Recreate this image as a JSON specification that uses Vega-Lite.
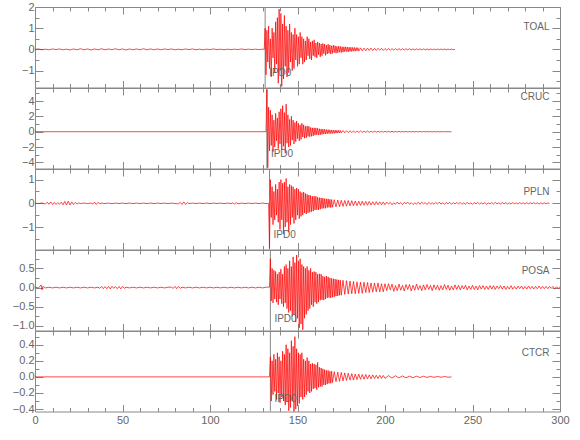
{
"$schema":"https://vega.github.io/schema/vega-lite/v6.json",
"background":"white",
"padding":{"left":11,"top":0,"right":5,"bottom":5},
"spacing":0,
"bounds":"flush",
"config":{"view":{"stroke":"#888888","strokeWidth":1},"axis":{"domain":false,"grid":false,"tickColor":"#888888","tickWidth":1,"labelFont":"Liberation Sans","labelFontSize":11,"labelColor":"#666666","labelOverlap":false,"labelFlush":false}},
"datasets":{
"picks":[{"s":"TOAL","t":131.5},{"s":"CRUC","t":132.5},{"s":"PPLN","t":134},{"s":"POSA","t":134.5},{"s":"CTCR","t":134.5}],
"TOAL":[{"t":0,"v":0},{"t":2,"v":0.02},{"t":4,"v":-0.02},{"t":6,"v":0.01},{"t":8,"v":-0.02},{"t":10,"v":0.02},{"t":12,"v":-0.01},{"t":14,"v":0.02},{"t":16,"v":-0.02},{"t":18,"v":0.01},{"t":20,"v":-0.03},{"t":22,"v":0.02},{"t":24,"v":-0.02},{"t":26,"v":0.03},{"t":28,"v":-0.02},{"t":30,"v":0.02},{"t":32,"v":-0.03},{"t":34,"v":0.02},{"t":36,"v":-0.02},{"t":38,"v":0.03},{"t":40,"v":-0.02},{"t":42,"v":0.02},{"t":44,"v":-0.02},{"t":46,"v":0.03},{"t":48,"v":-0.02},{"t":50,"v":0.02},{"t":52,"v":-0.03},{"t":54,"v":0.02},{"t":56,"v":-0.02},{"t":58,"v":0.02},{"t":60,"v":-0.02},{"t":62,"v":0.03},{"t":64,"v":-0.02},{"t":66,"v":0.02},{"t":68,"v":-0.02},{"t":70,"v":0.02},{"t":72,"v":-0.02},{"t":74,"v":0.02},{"t":76,"v":-0.01},{"t":78,"v":0.02},{"t":80,"v":-0.02},{"t":82,"v":0.01},{"t":84,"v":-0.02},{"t":86,"v":0.02},{"t":88,"v":-0.01},{"t":90,"v":0.02},{"t":92,"v":-0.02},{"t":94,"v":0.01},{"t":96,"v":-0.02},{"t":98,"v":0.01},{"t":100,"v":-0.01},{"t":102,"v":0.02},{"t":104,"v":-0.01},{"t":106,"v":0.01},{"t":108,"v":-0.02},{"t":110,"v":0.01},{"t":112,"v":-0.01},{"t":114,"v":0.01},{"t":116,"v":-0.01},{"t":118,"v":0.02},{"t":120,"v":-0.01},{"t":122,"v":0.01},{"t":124,"v":-0.01},{"t":126,"v":0.01},{"t":128,"v":-0.01},{"t":130,"v":0.01},{"t":131,"v":0},
{"t":131.5,"v":1.0},{"t":132,"v":-1.2},{"t":132.5,"v":0.9},{"t":133,"v":-0.6},{"t":133.5,"v":1.1},{"t":134,"v":-0.9},{"t":134.5,"v":0.5},{"t":135,"v":-1.3},{"t":135.5,"v":1.0},{"t":136,"v":-0.4},{"t":136.5,"v":0.8},{"t":137,"v":-1.1},{"t":137.5,"v":1.3},{"t":138,"v":-0.7},{"t":138.5,"v":1.5},{"t":139,"v":-1.6},{"t":139.5,"v":1.9},{"t":140,"v":-1.0},{"t":140.5,"v":1.7},{"t":141,"v":-1.75},{"t":141.5,"v":1.2},{"t":142,"v":-1.4},{"t":142.5,"v":1.6},{"t":143,"v":-0.8},{"t":143.5,"v":1.1},{"t":144,"v":-1.3},{"t":144.5,"v":0.9},{"t":145,"v":-1.1},{"t":145.5,"v":1.2},{"t":146,"v":-0.6},{"t":146.5,"v":0.8},{"t":147,"v":-1.0},{"t":147.5,"v":0.7},{"t":148,"v":-0.9},{"t":148.5,"v":1.0},{"t":149,"v":-0.5},{"t":149.5,"v":0.7},{"t":150,"v":-0.8},{"t":150.5,"v":0.6},{"t":151,"v":-0.7},{"t":151.5,"v":0.8},{"t":152,"v":-0.4},{"t":152.5,"v":0.6},{"t":153,"v":-0.7},{"t":153.5,"v":0.5},{"t":154,"v":-0.6},{"t":154.5,"v":0.4},{"t":155,"v":-0.5},{"t":155.5,"v":0.6},{"t":156,"v":-0.3},{"t":156.5,"v":0.5},{"t":157,"v":-0.45},{"t":157.5,"v":0.35},{"t":158,"v":-0.5},{"t":158.5,"v":0.4},{"t":159,"v":-0.3},{"t":159.5,"v":0.45},{"t":160,"v":-0.35},{"t":160.5,"v":0.3},{"t":161,"v":-0.4},{"t":161.5,"v":0.35},{"t":162,"v":-0.25},{"t":162.5,"v":0.3},{"t":163,"v":-0.35},{"t":163.5,"v":0.25},{"t":164,"v":-0.3},{"t":164.5,"v":0.28},{"t":165,"v":-0.2},{"t":165.5,"v":0.25},{"t":166,"v":-0.28},{"t":166.5,"v":0.2},{"t":167,"v":-0.22},{"t":167.5,"v":0.24},{"t":168,"v":-0.18},{"t":168.5,"v":0.2},{"t":169,"v":-0.22},{"t":169.5,"v":0.17},{"t":170,"v":-0.19},{"t":170.5,"v":0.2},{"t":171,"v":-0.15},{"t":171.5,"v":0.17},{"t":172,"v":-0.18},{"t":172.5,"v":0.14},{"t":173,"v":-0.16},{"t":173.5,"v":0.15},{"t":174,"v":-0.13},{"t":174.5,"v":0.14},{"t":175,"v":-0.15},{"t":175.5,"v":0.12},{"t":176,"v":-0.13},{"t":176.5,"v":0.12},{"t":177,"v":-0.11},{"t":177.5,"v":0.12},{"t":178,"v":-0.1},{"t":178.5,"v":0.11},{"t":179,"v":-0.12},{"t":179.5,"v":0.1},{"t":180,"v":-0.09},{"t":180.5,"v":0.1},{"t":181,"v":-0.1},{"t":181.5,"v":0.09},{"t":182,"v":-0.08},{"t":182.5,"v":0.09},{"t":183,"v":-0.09},{"t":183.5,"v":0.08},{"t":184,"v":-0.07},{"t":184.5,"v":0.08},{"t":185,"v":-0.08},
{"t":186,"v":0.07},{"t":187,"v":-0.07},{"t":188,"v":0.06},{"t":189,"v":-0.07},{"t":190,"v":0.06},{"t":191,"v":-0.05},{"t":192,"v":0.06},{"t":193,"v":-0.06},{"t":194,"v":0.05},{"t":195,"v":-0.05},{"t":196,"v":0.05},{"t":197,"v":-0.04},{"t":198,"v":0.05},{"t":199,"v":-0.05},{"t":200,"v":0.04},{"t":201,"v":-0.04},{"t":202,"v":0.04},{"t":203,"v":-0.04},{"t":204,"v":0.035},{"t":205,"v":-0.04},{"t":206,"v":0.035},{"t":207,"v":-0.03},{"t":208,"v":0.035},{"t":209,"v":-0.03},{"t":210,"v":0.03},{"t":211,"v":-0.03},{"t":212,"v":0.03},{"t":213,"v":-0.025},{"t":214,"v":0.03},{"t":215,"v":-0.025},{"t":216,"v":0.025},{"t":217,"v":-0.025},{"t":218,"v":0.025},{"t":219,"v":-0.02},{"t":220,"v":0.025},{"t":221,"v":-0.02},{"t":222,"v":0.02},{"t":223,"v":-0.02},{"t":224,"v":0.02},{"t":225,"v":-0.02},{"t":226,"v":0.02},{"t":227,"v":-0.018},{"t":228,"v":0.018},{"t":229,"v":-0.018},{"t":230,"v":0.016},{"t":231,"v":-0.016},{"t":232,"v":0.016},{"t":233,"v":-0.015},{"t":234,"v":0.015},{"t":235,"v":-0.015},{"t":236,"v":0.014},{"t":237,"v":-0.014},{"t":238,"v":0.013},{"t":239,"v":-0.013},{"t":240,"v":0}],
"CRUC":[{"t":0,"v":0},{"t":132,"v":0},
{"t":132.5,"v":5.5},{"t":133,"v":-4.7},{"t":133.5,"v":3.2},{"t":134,"v":-2.5},{"t":134.5,"v":2.8},{"t":135,"v":-1.8},{"t":135.5,"v":2.2},{"t":136,"v":-2.6},{"t":136.5,"v":1.5},{"t":137,"v":-2.0},{"t":137.5,"v":2.4},{"t":138,"v":-1.2},{"t":138.5,"v":1.8},{"t":139,"v":-2.2},{"t":139.5,"v":2.6},{"t":140,"v":-1.6},{"t":140.5,"v":3.0},{"t":141,"v":-2.4},{"t":141.5,"v":3.4},{"t":142,"v":-1.9},{"t":142.5,"v":2.5},{"t":143,"v":-2.8},{"t":143.5,"v":3.6},{"t":144,"v":-1.5},{"t":144.5,"v":2.2},{"t":145,"v":-2.0},{"t":145.5,"v":1.6},{"t":146,"v":-1.8},{"t":146.5,"v":2.0},{"t":147,"v":-1.1},{"t":147.5,"v":1.5},{"t":148,"v":-1.6},{"t":148.5,"v":1.2},{"t":149,"v":-1.3},{"t":149.5,"v":1.4},{"t":150,"v":-0.9},{"t":150.5,"v":1.1},{"t":151,"v":-1.2},{"t":151.5,"v":0.9},{"t":152,"v":-1.0},{"t":152.5,"v":1.1},{"t":153,"v":-0.7},{"t":153.5,"v":0.9},{"t":154,"v":-0.85},{"t":154.5,"v":0.7},{"t":155,"v":-0.8},{"t":155.5,"v":0.75},{"t":156,"v":-0.6},{"t":156.5,"v":0.7},{"t":157,"v":-0.65},{"t":157.5,"v":0.55},{"t":158,"v":-0.6},{"t":158.5,"v":0.5},{"t":159,"v":-0.55},{"t":159.5,"v":0.5},{"t":160,"v":-0.45},{"t":160.5,"v":0.5},{"t":161,"v":-0.4},{"t":161.5,"v":0.45},{"t":162,"v":-0.42},{"t":162.5,"v":0.38},{"t":163,"v":-0.4},{"t":163.5,"v":0.35},{"t":164,"v":-0.36},{"t":164.5,"v":0.33},{"t":165,"v":-0.3},{"t":165.5,"v":0.32},{"t":166,"v":-0.3},{"t":166.5,"v":0.28},{"t":167,"v":-0.27},{"t":167.5,"v":0.27},{"t":168,"v":-0.25},{"t":168.5,"v":0.24},{"t":169,"v":-0.24},{"t":169.5,"v":0.22},{"t":170,"v":-0.23},{"t":170.5,"v":0.2},{"t":171,"v":-0.21},{"t":171.5,"v":0.2},{"t":172,"v":-0.19},{"t":172.5,"v":0.18},{"t":173,"v":-0.18},{"t":173.5,"v":0.17},{"t":174,"v":-0.16},{"t":174.5,"v":0.16},{"t":175,"v":-0.15},
{"t":176,"v":0.15},{"t":177,"v":-0.14},{"t":178,"v":0.13},{"t":179,"v":-0.13},{"t":180,"v":0.12},{"t":181,"v":-0.12},{"t":182,"v":0.11},{"t":183,"v":-0.11},{"t":184,"v":0.1},{"t":185,"v":-0.1},{"t":186,"v":0.1},{"t":187,"v":-0.09},{"t":188,"v":0.09},{"t":189,"v":-0.09},{"t":190,"v":0.08},{"t":191,"v":-0.08},{"t":192,"v":0.08},{"t":193,"v":-0.07},{"t":194,"v":0.07},{"t":195,"v":-0.07},{"t":196,"v":0.06},{"t":197,"v":-0.06},{"t":198,"v":0.06},{"t":199,"v":-0.06},{"t":200,"v":0.05},{"t":201,"v":-0.05},{"t":202,"v":0.05},{"t":203,"v":-0.05},{"t":204,"v":0.045},{"t":205,"v":-0.045},{"t":206,"v":0.04},{"t":207,"v":-0.04},{"t":208,"v":0.04},{"t":209,"v":-0.04},{"t":210,"v":0.035},{"t":211,"v":-0.035},{"t":212,"v":0.035},{"t":213,"v":-0.03},{"t":214,"v":0.03},{"t":215,"v":-0.03},{"t":216,"v":0.03},{"t":217,"v":-0.03},{"t":218,"v":0.025},{"t":219,"v":-0.025},{"t":220,"v":0.025},{"t":221,"v":-0.025},{"t":222,"v":0.02},{"t":223,"v":-0.02},{"t":224,"v":0.02},{"t":225,"v":-0.02},{"t":226,"v":0.02},{"t":227,"v":-0.02},{"t":228,"v":0.015},{"t":229,"v":-0.015},{"t":230,"v":0.015},{"t":231,"v":-0.015},{"t":232,"v":0.015},{"t":233,"v":-0.01},{"t":234,"v":0.01},{"t":235,"v":-0.01},{"t":236,"v":0.01},{"t":237,"v":-0.01},{"t":238,"v":0}],
"PPLN":[{"t":0,"v":0.01},{"t":2,"v":-0.01},{"t":4,"v":0.015},{"t":6,"v":-0.03},{"t":7,"v":0.05},{"t":8,"v":-0.04},{"t":9,"v":0.06},{"t":10,"v":-0.05},{"t":11,"v":0.04},{"t":12,"v":-0.05},{"t":13,"v":0.03},{"t":14,"v":-0.04},{"t":15,"v":0.05},{"t":16,"v":-0.06},{"t":17,"v":0.08},{"t":18,"v":-0.07},{"t":19,"v":0.09},{"t":20,"v":-0.07},{"t":21,"v":0.06},{"t":22,"v":-0.05},{"t":23,"v":0.04},{"t":24,"v":-0.03},{"t":25,"v":0.02},{"t":26,"v":-0.01},{"t":28,"v":0.01},{"t":30,"v":-0.01},{"t":32,"v":0.015},{"t":33,"v":-0.03},{"t":34,"v":0.05},{"t":35,"v":-0.05},{"t":36,"v":0.04},{"t":37,"v":-0.02},{"t":38,"v":0.01},{"t":40,"v":-0.01},{"t":42,"v":0.01},{"t":44,"v":-0.01},{"t":46,"v":0.01},{"t":48,"v":-0.01},{"t":50,"v":0.01},{"t":52,"v":-0.01},{"t":54,"v":0.01},{"t":56,"v":-0.01},{"t":58,"v":0.01},{"t":60,"v":-0.01},{"t":62,"v":0.01},{"t":64,"v":-0.01},{"t":66,"v":0.01},{"t":68,"v":-0.01},{"t":70,"v":0.01},{"t":72,"v":-0.01},{"t":74,"v":0.01},{"t":76,"v":-0.01},{"t":78,"v":0.01},{"t":80,"v":-0.01},{"t":82,"v":-0.02},{"t":83,"v":0.04},{"t":84,"v":-0.05},{"t":85,"v":0.06},{"t":86,"v":-0.04},{"t":87,"v":0.03},{"t":88,"v":-0.01},{"t":90,"v":0.01},{"t":92,"v":-0.01},{"t":94,"v":0.01},{"t":96,"v":-0.01},{"t":98,"v":0.01},{"t":100,"v":-0.01},{"t":102,"v":0.01},{"t":104,"v":-0.01},{"t":106,"v":0.01},{"t":108,"v":-0.01},{"t":110,"v":0.01},{"t":112,"v":-0.01},{"t":113,"v":0.02},{"t":114,"v":-0.03},{"t":115,"v":0.03},{"t":116,"v":-0.02},{"t":118,"v":0.01},{"t":120,"v":-0.01},{"t":122,"v":0.01},{"t":124,"v":-0.01},{"t":126,"v":0.01},{"t":128,"v":-0.01},{"t":130,"v":0.01},{"t":132,"v":-0.01},{"t":133.5,"v":0},
{"t":134,"v":-1.9},{"t":134.5,"v":1.0},{"t":135,"v":-0.6},{"t":135.5,"v":0.7},{"t":136,"v":-0.9},{"t":136.5,"v":0.5},{"t":137,"v":-0.7},{"t":137.5,"v":0.8},{"t":138,"v":-0.5},{"t":138.5,"v":0.6},{"t":139,"v":-0.8},{"t":139.5,"v":0.9},{"t":140,"v":-1.1},{"t":140.5,"v":1.0},{"t":141,"v":-0.7},{"t":141.5,"v":0.85},{"t":142,"v":-1.3},{"t":142.5,"v":0.9},{"t":143,"v":-1.0},{"t":143.5,"v":1.05},{"t":144,"v":-0.8},{"t":144.5,"v":0.7},{"t":145,"v":-1.2},{"t":145.5,"v":0.8},{"t":146,"v":-0.9},{"t":146.5,"v":0.75},{"t":147,"v":-0.6},{"t":147.5,"v":0.7},{"t":148,"v":-0.85},{"t":148.5,"v":0.6},{"t":149,"v":-0.7},{"t":149.5,"v":0.65},{"t":150,"v":-0.5},{"t":150.5,"v":0.6},{"t":151,"v":-0.65},{"t":151.5,"v":0.5},{"t":152,"v":-0.55},{"t":152.5,"v":0.45},{"t":153,"v":-0.5},{"t":153.5,"v":0.48},{"t":154,"v":-0.4},{"t":154.5,"v":0.42},{"t":155,"v":-0.45},{"t":155.5,"v":0.38},{"t":156,"v":-0.4},{"t":156.5,"v":0.35},{"t":157,"v":-0.38},{"t":157.5,"v":0.33},{"t":158,"v":-0.35},{"t":158.5,"v":0.3},{"t":159,"v":-0.33},{"t":159.5,"v":0.3},{"t":160,"v":-0.28},{"t":160.5,"v":0.3},{"t":161,"v":-0.27},{"t":161.5,"v":0.26},{"t":162,"v":-0.28},{"t":162.5,"v":0.24},{"t":163,"v":-0.25},{"t":163.5,"v":0.23},{"t":164,"v":-0.22},{"t":164.5,"v":0.22},{"t":165,"v":-0.21},{"t":165.5,"v":0.2},{"t":166,"v":-0.21},{"t":166.5,"v":0.19},{"t":167,"v":-0.18},{"t":167.5,"v":0.19},{"t":168,"v":-0.17},{"t":168.5,"v":0.17},{"t":169,"v":-0.18},{"t":169.5,"v":0.16},{"t":170,"v":-0.16},
{"t":171,"v":0.15},{"t":172,"v":-0.15},{"t":173,"v":0.14},{"t":174,"v":-0.14},{"t":175,"v":0.13},{"t":176,"v":-0.13},{"t":177,"v":0.12},{"t":178,"v":-0.12},{"t":179,"v":0.12},{"t":180,"v":-0.11},{"t":181,"v":0.11},{"t":182,"v":-0.1},{"t":183,"v":0.1},{"t":184,"v":-0.1},{"t":185,"v":0.09},{"t":186,"v":-0.09},{"t":187,"v":0.09},{"t":188,"v":-0.08},{"t":189,"v":0.08},{"t":190,"v":-0.08},{"t":191,"v":0.08},{"t":192,"v":-0.07},{"t":193,"v":0.07},{"t":194,"v":-0.07},{"t":195,"v":0.07},{"t":196,"v":-0.06},{"t":197,"v":0.06},{"t":198,"v":-0.06},{"t":199,"v":0.06},{"t":200,"v":-0.06},
{"t":201,"v":0.05},{"t":202,"v":-0.03},{"t":203,"v":0.04},{"t":204,"v":-0.06},{"t":205,"v":0.02},{"t":206,"v":-0.04},{"t":207,"v":0.05},{"t":208,"v":-0.03},{"t":209,"v":0.03},{"t":210,"v":-0.05},{"t":211,"v":0.04},{"t":212,"v":-0.02},{"t":213,"v":0.05},{"t":214,"v":-0.04},{"t":215,"v":0.03},{"t":216,"v":-0.05},{"t":217,"v":0.02},{"t":218,"v":-0.03},{"t":219,"v":0.04},{"t":220,"v":-0.04},{"t":221,"v":0.05},{"t":222,"v":-0.02},{"t":223,"v":0.03},{"t":224,"v":-0.05},{"t":225,"v":0.04},{"t":226,"v":-0.03},{"t":227,"v":0.02},{"t":228,"v":-0.04},{"t":229,"v":0.04},{"t":230,"v":-0.03},{"t":231,"v":0.05},{"t":232,"v":-0.03},{"t":233,"v":0.02},{"t":234,"v":-0.04},{"t":235,"v":0.03},{"t":236,"v":-0.02},{"t":237,"v":0.04},{"t":238,"v":-0.04},{"t":239,"v":0.03},{"t":240,"v":-0.03},{"t":241,"v":0.04},{"t":242,"v":-0.02},{"t":243,"v":0.03},{"t":244,"v":-0.04},{"t":245,"v":0.02},{"t":246,"v":-0.03},{"t":247,"v":0.04},{"t":248,"v":-0.03},{"t":249,"v":0.02},{"t":250,"v":-0.04},{"t":251,"v":0.03},{"t":252,"v":-0.02},{"t":253,"v":0.04},{"t":254,"v":-0.03},{"t":255,"v":0.02},{"t":256,"v":-0.03},{"t":257,"v":0.03},{"t":258,"v":-0.04},{"t":259,"v":0.02},{"t":260,"v":-0.02},{"t":261,"v":0.03},{"t":262,"v":-0.03},{"t":263,"v":0.04},{"t":264,"v":-0.02},{"t":265,"v":0.02},{"t":266,"v":-0.03},{"t":267,"v":0.03},{"t":268,"v":-0.02},{"t":269,"v":0.03},{"t":270,"v":-0.03},{"t":271,"v":0.02},{"t":272,"v":-0.03},{"t":273,"v":0.03},{"t":274,"v":-0.02},{"t":275,"v":0.02},{"t":276,"v":-0.03},{"t":277,"v":0.03},{"t":278,"v":-0.02},{"t":279,"v":0.02},{"t":280,"v":-0.03},{"t":281,"v":0.03},{"t":282,"v":-0.02},{"t":283,"v":0.02},{"t":284,"v":-0.02},{"t":285,"v":0.03},{"t":286,"v":-0.02},{"t":287,"v":0.02},{"t":288,"v":-0.03},{"t":289,"v":0.02},{"t":290,"v":-0.02},{"t":291,"v":0.02},{"t":292,"v":-0.02},{"t":293,"v":0.01},{"t":294,"v":0}],
"POSA":[{"t":0,"v":0.01},{"t":2,"v":-0.01},{"t":3.5,"v":0.07},{"t":4,"v":-0.06},{"t":4.5,"v":0.03},{"t":6,"v":-0.01},{"t":8,"v":0.01},{"t":10,"v":-0.01},{"t":12,"v":0.01},{"t":14,"v":-0.01},{"t":16,"v":0.01},{"t":18,"v":-0.01},{"t":20,"v":0.01},{"t":22,"v":-0.01},{"t":24,"v":0.01},{"t":26,"v":-0.01},{"t":28,"v":0.01},{"t":30,"v":-0.01},{"t":32,"v":0.01},{"t":34,"v":-0.01},{"t":36,"v":0.01},{"t":37,"v":-0.02},{"t":38,"v":0.03},{"t":39,"v":-0.03},{"t":40,"v":0.025},{"t":41,"v":-0.03},{"t":42,"v":0.03},{"t":43,"v":-0.035},{"t":44,"v":0.03},{"t":45,"v":-0.02},{"t":46,"v":0.025},{"t":47,"v":-0.03},{"t":48,"v":0.03},{"t":49,"v":-0.035},{"t":50,"v":0.03},{"t":51,"v":-0.02},{"t":52,"v":0.01},{"t":54,"v":-0.01},{"t":56,"v":0.01},{"t":58,"v":-0.01},{"t":60,"v":0.01},{"t":62,"v":-0.01},{"t":64,"v":0.01},{"t":66,"v":-0.01},{"t":68,"v":0.01},{"t":70,"v":-0.01},{"t":72,"v":0.01},{"t":74,"v":-0.01},{"t":76,"v":0.01},{"t":78,"v":0.01},{"t":79,"v":-0.02},{"t":80,"v":0.03},{"t":81,"v":-0.03},{"t":82,"v":0.03},{"t":83,"v":-0.02},{"t":84,"v":0.01},{"t":86,"v":-0.01},{"t":88,"v":0.01},{"t":90,"v":-0.01},{"t":92,"v":0.01},{"t":94,"v":-0.01},{"t":96,"v":0.01},{"t":98,"v":-0.01},{"t":100,"v":0.01},{"t":102,"v":-0.01},{"t":104,"v":0.01},{"t":106,"v":-0.01},{"t":108,"v":0.01},{"t":110,"v":-0.01},{"t":112,"v":0.01},{"t":114,"v":-0.01},{"t":116,"v":0.01},{"t":118,"v":-0.01},{"t":120,"v":0.01},{"t":122,"v":-0.01},{"t":124,"v":0.01},{"t":126,"v":-0.01},{"t":128,"v":0.01},{"t":130,"v":-0.01},{"t":132,"v":0.01},{"t":134,"v":0.01},
{"t":134.5,"v":0.75},{"t":135,"v":-0.35},{"t":135.5,"v":0.5},{"t":136,"v":-0.4},{"t":136.5,"v":0.45},{"t":137,"v":-0.3},{"t":137.5,"v":0.42},{"t":138,"v":-0.38},{"t":138.5,"v":0.35},{"t":139,"v":-0.45},{"t":139.5,"v":0.4},{"t":140,"v":-0.3},{"t":140.5,"v":0.48},{"t":141,"v":-0.42},{"t":141.5,"v":0.35},{"t":142,"v":-0.5},{"t":142.5,"v":0.55},{"t":143,"v":-0.4},{"t":143.5,"v":0.6},{"t":144,"v":-0.55},{"t":144.5,"v":0.5},{"t":145,"v":-0.65},{"t":145.5,"v":0.7},{"t":146,"v":-0.6},{"t":146.5,"v":0.55},{"t":147,"v":-0.75},{"t":147.5,"v":0.8},{"t":148,"v":-0.7},{"t":148.5,"v":0.65},{"t":149,"v":-0.9},{"t":149.5,"v":0.85},{"t":150,"v":-0.8},{"t":150.5,"v":0.7},{"t":151,"v":-1.05},{"t":151.5,"v":0.75},{"t":152,"v":-0.95},{"t":152.5,"v":0.6},{"t":153,"v":-1.1},{"t":153.5,"v":0.55},{"t":154,"v":-0.8},{"t":154.5,"v":0.5},{"t":155,"v":-0.7},{"t":155.5,"v":0.55},{"t":156,"v":-0.6},{"t":156.5,"v":0.45},{"t":157,"v":-0.55},{"t":157.5,"v":0.5},{"t":158,"v":-0.45},{"t":158.5,"v":0.4},{"t":159,"v":-0.5},{"t":159.5,"v":0.42},{"t":160,"v":-0.38},{"t":160.5,"v":0.4},{"t":161,"v":-0.42},{"t":161.5,"v":0.35},{"t":162,"v":-0.38},{"t":162.5,"v":0.36},{"t":163,"v":-0.33},{"t":163.5,"v":0.35},{"t":164,"v":-0.32},{"t":164.5,"v":0.3},{"t":165,"v":-0.33},{"t":165.5,"v":0.28},{"t":166,"v":-0.3},{"t":166.5,"v":0.3},{"t":167,"v":-0.27},{"t":167.5,"v":0.28},{"t":168,"v":-0.26},{"t":168.5,"v":0.25},{"t":169,"v":-0.27},{"t":169.5,"v":0.24},{"t":170,"v":-0.25},{"t":170.5,"v":0.23},{"t":171,"v":-0.24},{"t":171.5,"v":0.22},{"t":172,"v":-0.22},{"t":172.5,"v":0.21},{"t":173,"v":-0.22},{"t":173.5,"v":0.2},{"t":174,"v":-0.2},{"t":174.5,"v":0.19},{"t":175,"v":-0.2},
{"t":176,"v":0.19},{"t":177,"v":-0.18},{"t":178,"v":0.18},{"t":179,"v":-0.17},{"t":180,"v":0.17},{"t":181,"v":-0.16},{"t":182,"v":0.16},{"t":183,"v":-0.16},{"t":184,"v":0.15},{"t":185,"v":-0.15},{"t":186,"v":0.14},{"t":187,"v":-0.15},{"t":188,"v":0.14},{"t":189,"v":-0.13},{"t":190,"v":0.13},{"t":191,"v":-0.13},{"t":192,"v":0.12},{"t":193,"v":-0.12},{"t":194,"v":0.12},{"t":195,"v":-0.11},{"t":196,"v":0.12},{"t":197,"v":-0.11},{"t":198,"v":0.1},{"t":199,"v":-0.11},{"t":200,"v":0.1},
{"t":201,"v":-0.08},{"t":202,"v":0.1},{"t":203,"v":-0.06},{"t":204,"v":0.09},{"t":205,"v":-0.1},{"t":206,"v":0.05},{"t":207,"v":-0.08},{"t":208,"v":0.09},{"t":209,"v":-0.07},{"t":210,"v":0.06},{"t":211,"v":-0.09},{"t":212,"v":0.08},{"t":213,"v":-0.05},{"t":214,"v":0.08},{"t":215,"v":-0.09},{"t":216,"v":0.06},{"t":217,"v":-0.07},{"t":218,"v":0.09},{"t":219,"v":-0.06},{"t":220,"v":0.05},{"t":221,"v":-0.08},{"t":222,"v":0.07},{"t":223,"v":-0.06},{"t":224,"v":0.08},{"t":225,"v":-0.05},{"t":226,"v":0.06},{"t":227,"v":-0.08},{"t":228,"v":0.07},{"t":229,"v":-0.05},{"t":230,"v":0.06},{"t":231,"v":-0.07},{"t":232,"v":0.05},{"t":233,"v":-0.06},{"t":234,"v":0.08},{"t":235,"v":-0.05},{"t":236,"v":0.06},{"t":237,"v":-0.07},{"t":238,"v":0.04},{"t":239,"v":-0.06},{"t":240,"v":0.07},{"t":241,"v":-0.05},{"t":242,"v":0.06},{"t":243,"v":-0.06},{"t":244,"v":0.05},{"t":245,"v":-0.04},{"t":246,"v":0.06},{"t":247,"v":-0.06},{"t":248,"v":0.04},{"t":249,"v":-0.05},{"t":250,"v":0.06},{"t":251,"v":-0.05},{"t":252,"v":0.04},{"t":253,"v":-0.06},{"t":254,"v":0.05},{"t":255,"v":-0.04},{"t":256,"v":0.05},{"t":257,"v":-0.05},{"t":258,"v":0.04},{"t":259,"v":-0.05},{"t":260,"v":0.05},{"t":261,"v":-0.04},{"t":262,"v":0.05},{"t":263,"v":-0.05},{"t":264,"v":0.04},{"t":265,"v":-0.03},{"t":266,"v":0.05},{"t":267,"v":-0.04},{"t":268,"v":0.04},{"t":269,"v":-0.05},{"t":270,"v":0.03},{"t":271,"v":-0.04},{"t":272,"v":0.05},{"t":273,"v":-0.04},{"t":274,"v":0.03},{"t":275,"v":-0.04},{"t":276,"v":0.04},{"t":277,"v":-0.03},{"t":278,"v":0.04},{"t":279,"v":-0.04},{"t":280,"v":0.03},{"t":281,"v":-0.04},{"t":282,"v":0.04},{"t":283,"v":-0.03},{"t":284,"v":0.03},{"t":285,"v":-0.04},{"t":286,"v":0.03},{"t":287,"v":-0.03},{"t":288,"v":0.04},{"t":289,"v":-0.03},{"t":290,"v":0.03},{"t":291,"v":-0.03},{"t":292,"v":0.03},{"t":293,"v":-0.03},{"t":294,"v":0.03},{"t":295,"v":-0.02},{"t":296,"v":0.03},{"t":297,"v":-0.03},{"t":298,"v":0.02},{"t":299,"v":-0.02},{"t":300,"v":0.02}],
"CTCR":[{"t":0,"v":0},{"t":134,"v":0},
{"t":134.5,"v":0.25},{"t":135,"v":-0.3},{"t":135.5,"v":0.2},{"t":136,"v":-0.22},{"t":136.5,"v":0.28},{"t":137,"v":-0.18},{"t":137.5,"v":0.22},{"t":138,"v":-0.28},{"t":138.5,"v":0.3},{"t":139,"v":-0.2},{"t":139.5,"v":0.25},{"t":140,"v":-0.32},{"t":140.5,"v":0.2},{"t":141,"v":-0.25},{"t":141.5,"v":0.32},{"t":142,"v":-0.3},{"t":142.5,"v":0.28},{"t":143,"v":-0.35},{"t":143.5,"v":0.4},{"t":144,"v":-0.3},{"t":144.5,"v":0.35},{"t":145,"v":-0.42},{"t":145.5,"v":0.3},{"t":146,"v":-0.38},{"t":146.5,"v":0.45},{"t":147,"v":-0.3},{"t":147.5,"v":0.38},{"t":148,"v":-0.45},{"t":148.5,"v":0.5},{"t":149,"v":-0.4},{"t":149.5,"v":0.35},{"t":150,"v":-0.36},{"t":150.5,"v":0.3},{"t":151,"v":-0.33},{"t":151.5,"v":0.28},{"t":152,"v":-0.25},{"t":152.5,"v":0.3},{"t":153,"v":-0.28},{"t":153.5,"v":0.22},{"t":154,"v":-0.25},{"t":154.5,"v":0.2},{"t":155,"v":-0.22},{"t":155.5,"v":0.24},{"t":156,"v":-0.18},{"t":156.5,"v":0.2},{"t":157,"v":-0.2},{"t":157.5,"v":0.16},{"t":158,"v":-0.18},{"t":158.5,"v":0.17},{"t":159,"v":-0.15},{"t":159.5,"v":0.16},{"t":160,"v":-0.14},{"t":160.5,"v":0.15},{"t":161,"v":-0.16},{"t":161.5,"v":0.18},{"t":162,"v":-0.13},{"t":162.5,"v":0.12},{"t":163,"v":-0.12},{"t":163.5,"v":0.11},{"t":164,"v":-0.12},{"t":164.5,"v":0.1},{"t":165,"v":-0.1},{"t":165.5,"v":0.09},{"t":166,"v":-0.1},{"t":166.5,"v":0.08},{"t":167,"v":-0.09},{"t":167.5,"v":0.08},{"t":168,"v":-0.08},{"t":168.5,"v":0.07},{"t":169,"v":-0.08},{"t":169.5,"v":0.07},{"t":170,"v":-0.07},
{"t":171,"v":0.065},{"t":172,"v":-0.06},{"t":173,"v":0.06},{"t":174,"v":-0.055},{"t":175,"v":0.055},{"t":176,"v":-0.05},{"t":177,"v":0.05},{"t":178,"v":-0.045},{"t":179,"v":0.045},{"t":180,"v":-0.04},{"t":181,"v":0.04},{"t":182,"v":-0.04},{"t":183,"v":0.035},{"t":184,"v":-0.035},{"t":185,"v":0.035},{"t":186,"v":-0.03},{"t":187,"v":0.03},{"t":188,"v":-0.03},{"t":189,"v":0.03},{"t":190,"v":-0.025},{"t":191,"v":0.025},{"t":192,"v":-0.025},{"t":193,"v":0.025},{"t":194,"v":-0.02},{"t":195,"v":0.02},{"t":196,"v":-0.02},{"t":197,"v":0.02},{"t":198,"v":-0.02},{"t":199,"v":0.018},{"t":200,"v":-0.018},
{"t":202,"v":0.016},{"t":204,"v":-0.015},{"t":206,"v":0.014},{"t":208,"v":-0.013},{"t":210,"v":0.012},{"t":212,"v":-0.011},{"t":214,"v":0.01},{"t":216,"v":-0.01},{"t":218,"v":0.009},{"t":220,"v":-0.008},{"t":222,"v":0.008},{"t":224,"v":-0.007},{"t":226,"v":0.007},{"t":228,"v":-0.006},{"t":230,"v":0.006},{"t":232,"v":-0.005},{"t":234,"v":0.005},{"t":236,"v":-0.004},{"t":238,"v":0}]
},
"vconcat":[
{"width":525,"height":80.5,"resolve":{"axis":{"x":"independent","y":"independent"}},
"layer":[
{"data":{"name":"picks"},"transform":[{"filter":"datum.s === 'TOAL'"}],"mark":{"type":"rule","color":"#888888","strokeWidth":1},"encoding":{"x":{"field":"t","type":"quantitative","scale":{"domain":[0,300],"nice":false,"zero":false},"axis":null}}},
{"data":{"name":"TOAL"},"mark":{"type":"line","color":"#ff0000","strokeWidth":0.8,"opacity":0.9,"clip":true},
"encoding":{"x":{"field":"t","type":"quantitative","scale":{"domain":[0,300],"nice":false,"zero":false},"axis":{"orient":"bottom","title":null,"values":[0,10,20,30,40,50,60,70,80,90,100,110,120,130,140,150,160,170,180,190,200,210,220,230,240,250,260,270,280,290,300],"labels":false,"tickSize":{"condition":{"test":"datum.value % 50 === 0","value":-7},"value":-4}}},
"y":{"field":"v","type":"quantitative","scale":{"domain":[-1.8,2],"nice":false,"zero":false},"axis":{"orient":"left","title":null,"values":[-1.5,-1,-0.5,0,0.5,1,1.5,2],"format":".0f","labelExpr":"datum.value % 1 === 0 ? datum.label : ''","labelPadding":9,"tickSize":{"condition":{"test":"datum.value % 1 === 0","value":-8},"value":-4}}}}},
{"data":{"name":"picks"},"transform":[{"filter":"datum.s === 'TOAL'"}],"mark":{"type":"text","text":"IPD0","align":"left","baseline":"middle","dx":4,"font":"Liberation Sans","fontSize":10,"color":"#666666"},
"encoding":{"x":{"field":"t","type":"quantitative","scale":{"domain":[0,300],"nice":false,"zero":false},"axis":{"orient":"top","title":null,"values":[0,10,20,30,40,50,60,70,80,90,100,110,120,130,140,150,160,170,180,190,200,210,220,230,240,250,260,270,280,290,300],"labels":false,"tickSize":{"condition":{"test":"datum.value % 50 === 0","value":-7},"value":-4}}},
"y":{"datum":-1.12,"type":"quantitative","scale":{"domain":[-1.8,2],"nice":false,"zero":false},"axis":{"orient":"right","title":null,"values":[-1.5,-1,-0.5,0,0.5,1,1.5,2],"labels":false,"tickSize":{"condition":{"test":"datum.value % 1 === 0","value":-8},"value":-4}}}}},
{"data":{"name":"picks"},"transform":[{"filter":"datum.s === 'TOAL'"}],"mark":{"type":"text","align":"right","baseline":"middle","font":"Liberation Sans","fontSize":10,"color":"#666666"},
"encoding":{"text":{"field":"s"},"x":{"datum":294,"type":"quantitative","axis":null},"y":{"datum":1.07,"type":"quantitative","axis":null}}}
]},
{"width":525,"height":80.5,"resolve":{"axis":{"x":"independent","y":"independent"}},
"layer":[
{"data":{"name":"picks"},"transform":[{"filter":"datum.s === 'CRUC'"}],"mark":{"type":"rule","color":"#888888","strokeWidth":1},"encoding":{"x":{"field":"t","type":"quantitative","scale":{"domain":[0,300],"nice":false,"zero":false},"axis":null}}},
{"data":{"name":"CRUC"},"mark":{"type":"line","color":"#ff0000","strokeWidth":0.8,"opacity":0.9,"clip":true},
"encoding":{"x":{"field":"t","type":"quantitative","scale":{"domain":[0,300],"nice":false,"zero":false},"axis":{"orient":"bottom","title":null,"values":[0,10,20,30,40,50,60,70,80,90,100,110,120,130,140,150,160,170,180,190,200,210,220,230,240,250,260,270,280,290,300],"labels":false,"tickSize":{"condition":{"test":"datum.value % 50 === 0","value":-7},"value":-4}}},
"y":{"field":"v","type":"quantitative","scale":{"domain":[-4.8,5.7],"nice":false,"zero":false},"axis":{"orient":"left","title":null,"values":[-4,-3,-2,-1,0,1,2,3,4,5],"format":".0f","labelExpr":"datum.value % 2 === 0 ? datum.label : ''","labelPadding":9,"tickSize":{"condition":{"test":"datum.value % 2 === 0","value":-8},"value":-4}}}}},
{"data":{"name":"picks"},"transform":[{"filter":"datum.s === 'CRUC'"}],"mark":{"type":"text","text":"IPD0","align":"left","baseline":"middle","dx":4,"font":"Liberation Sans","fontSize":10,"color":"#666666"},
"encoding":{"x":{"field":"t","type":"quantitative","scale":{"domain":[0,300],"nice":false,"zero":false},"axis":{"orient":"top","title":null,"values":[0,10,20,30,40,50,60,70,80,90,100,110,120,130,140,150,160,170,180,190,200,210,220,230,240,250,260,270,280,290,300],"labels":false,"tickSize":{"condition":{"test":"datum.value % 50 === 0","value":-7},"value":-4}}},
"y":{"datum":-2.9,"type":"quantitative","scale":{"domain":[-4.8,5.7],"nice":false,"zero":false},"axis":{"orient":"right","title":null,"values":[-4,-3,-2,-1,0,1,2,3,4,5],"labels":false,"tickSize":{"condition":{"test":"datum.value % 2 === 0","value":-8},"value":-4}}}}},
{"data":{"name":"picks"},"transform":[{"filter":"datum.s === 'CRUC'"}],"mark":{"type":"text","align":"right","baseline":"middle","font":"Liberation Sans","fontSize":10,"color":"#666666"},
"encoding":{"text":{"field":"s"},"x":{"datum":294,"type":"quantitative","axis":null},"y":{"datum":4.57,"type":"quantitative","axis":null}}}
]},
{"width":525,"height":80.5,"resolve":{"axis":{"x":"independent","y":"independent"}},
"layer":[
{"data":{"name":"picks"},"transform":[{"filter":"datum.s === 'PPLN'"}],"mark":{"type":"rule","color":"#888888","strokeWidth":1},"encoding":{"x":{"field":"t","type":"quantitative","scale":{"domain":[0,300],"nice":false,"zero":false},"axis":null}}},
{"data":{"name":"PPLN"},"mark":{"type":"line","color":"#ff0000","strokeWidth":0.8,"opacity":0.9,"clip":true},
"encoding":{"x":{"field":"t","type":"quantitative","scale":{"domain":[0,300],"nice":false,"zero":false},"axis":{"orient":"bottom","title":null,"values":[0,10,20,30,40,50,60,70,80,90,100,110,120,130,140,150,160,170,180,190,200,210,220,230,240,250,260,270,280,290,300],"labels":false,"tickSize":{"condition":{"test":"datum.value % 50 === 0","value":-7},"value":-4}}},
"y":{"field":"v","type":"quantitative","scale":{"domain":[-1.95,1.45],"nice":false,"zero":false},"axis":{"orient":"left","title":null,"values":[-1.5,-1,-0.5,0,0.5,1],"format":".0f","labelExpr":"datum.value % 1 === 0 ? datum.label : ''","labelPadding":9,"tickSize":{"condition":{"test":"datum.value % 1 === 0","value":-8},"value":-4}}}}},
{"data":{"name":"picks"},"transform":[{"filter":"datum.s === 'PPLN'"}],"mark":{"type":"text","text":"IPD0","align":"left","baseline":"middle","dx":4,"font":"Liberation Sans","fontSize":10,"color":"#666666"},
"encoding":{"x":{"field":"t","type":"quantitative","scale":{"domain":[0,300],"nice":false,"zero":false},"axis":{"orient":"top","title":null,"values":[0,10,20,30,40,50,60,70,80,90,100,110,120,130,140,150,160,170,180,190,200,210,220,230,240,250,260,270,280,290,300],"labels":false,"tickSize":{"condition":{"test":"datum.value % 50 === 0","value":-7},"value":-4}}},
"y":{"datum":-1.35,"type":"quantitative","scale":{"domain":[-1.95,1.45],"nice":false,"zero":false},"axis":{"orient":"right","title":null,"values":[-1.5,-1,-0.5,0,0.5,1],"labels":false,"tickSize":{"condition":{"test":"datum.value % 1 === 0","value":-8},"value":-4}}}}},
{"data":{"name":"picks"},"transform":[{"filter":"datum.s === 'PPLN'"}],"mark":{"type":"text","align":"right","baseline":"middle","font":"Liberation Sans","fontSize":10,"color":"#666666"},
"encoding":{"text":{"field":"s"},"x":{"datum":294,"type":"quantitative","axis":null},"y":{"datum":0.46,"type":"quantitative","axis":null}}}
]},
{"width":525,"height":80.5,"resolve":{"axis":{"x":"independent","y":"independent"}},
"layer":[
{"data":{"name":"picks"},"transform":[{"filter":"datum.s === 'POSA'"}],"mark":{"type":"rule","color":"#888888","strokeWidth":1},"encoding":{"x":{"field":"t","type":"quantitative","scale":{"domain":[0,300],"nice":false,"zero":false},"axis":null}}},
{"data":{"name":"POSA"},"mark":{"type":"line","color":"#ff0000","strokeWidth":0.8,"opacity":0.9,"clip":true},
"encoding":{"x":{"field":"t","type":"quantitative","scale":{"domain":[0,300],"nice":false,"zero":false},"axis":{"orient":"bottom","title":null,"values":[0,10,20,30,40,50,60,70,80,90,100,110,120,130,140,150,160,170,180,190,200,210,220,230,240,250,260,270,280,290,300],"labels":false,"tickSize":{"condition":{"test":"datum.value % 50 === 0","value":-7},"value":-4}}},
"y":{"field":"v","type":"quantitative","scale":{"domain":[-1.12,0.98],"nice":false,"zero":false},"axis":{"orient":"left","title":null,"values":[-1,-0.75,-0.5,-0.25,0,0.25,0.5,0.75],"format":".1f","labelExpr":"abs(datum.value*2 - round(datum.value*2)) < 0.001 ? datum.label : ''","labelPadding":9,"tickSize":{"condition":{"test":"abs(datum.value*2 - round(datum.value*2)) < 0.001","value":-8},"value":-4}}}}},
{"data":{"name":"picks"},"transform":[{"filter":"datum.s === 'POSA'"}],"mark":{"type":"text","text":"IPD0","align":"left","baseline":"middle","dx":4,"font":"Liberation Sans","fontSize":10,"color":"#666666"},
"encoding":{"x":{"field":"t","type":"quantitative","scale":{"domain":[0,300],"nice":false,"zero":false},"axis":{"orient":"top","title":null,"values":[0,10,20,30,40,50,60,70,80,90,100,110,120,130,140,150,160,170,180,190,200,210,220,230,240,250,260,270,280,290,300],"labels":false,"tickSize":{"condition":{"test":"datum.value % 50 === 0","value":-7},"value":-4}}},
"y":{"datum":-0.81,"type":"quantitative","scale":{"domain":[-1.12,0.98],"nice":false,"zero":false},"axis":{"orient":"right","title":null,"values":[-1,-0.75,-0.5,-0.25,0,0.25,0.5,0.75],"labels":false,"tickSize":{"condition":{"test":"abs(datum.value*2 - round(datum.value*2)) < 0.001","value":-8},"value":-4}}}}},
{"data":{"name":"picks"},"transform":[{"filter":"datum.s === 'POSA'"}],"mark":{"type":"text","align":"right","baseline":"middle","font":"Liberation Sans","fontSize":10,"color":"#666666"},
"encoding":{"text":{"field":"s"},"x":{"datum":294,"type":"quantitative","axis":null},"y":{"datum":0.43,"type":"quantitative","axis":null}}}
]},
{"width":525,"height":80.5,"resolve":{"axis":{"x":"independent","y":"independent"}},
"layer":[
{"data":{"name":"picks"},"transform":[{"filter":"datum.s === 'CTCR'"}],"mark":{"type":"rule","color":"#888888","strokeWidth":1},"encoding":{"x":{"field":"t","type":"quantitative","scale":{"domain":[0,300],"nice":false,"zero":false},"axis":null}}},
{"data":{"name":"CTCR"},"mark":{"type":"line","color":"#ff0000","strokeWidth":0.8,"opacity":0.9,"clip":true},
"encoding":{"x":{"field":"t","type":"quantitative","scale":{"domain":[0,300],"nice":false,"zero":false},"axis":{"orient":"bottom","title":null,"values":[0,10,20,30,40,50,60,70,80,90,100,110,120,130,140,150,160,170,180,190,200,210,220,230,240,250,260,270,280,290,300],"labels":true,"labelExpr":"datum.value % 50 === 0 ? datum.label : ''","labelPadding":10,"tickSize":{"condition":{"test":"datum.value % 50 === 0","value":-7},"value":-4}}},
"y":{"field":"v","type":"quantitative","scale":{"domain":[-0.43,0.57],"nice":false,"zero":false},"axis":{"orient":"left","title":null,"values":[-0.4,-0.3,-0.2,-0.1,0,0.1,0.2,0.3,0.4,0.5],"format":".1f","labelExpr":"abs(datum.value*5 - round(datum.value*5)) < 0.001 ? datum.label : ''","labelPadding":9,"tickSize":{"condition":{"test":"abs(datum.value*5 - round(datum.value*5)) < 0.001","value":-8},"value":-4}}}}},
{"data":{"name":"picks"},"transform":[{"filter":"datum.s === 'CTCR'"}],"mark":{"type":"text","text":"IPD0","align":"left","baseline":"middle","dx":4,"font":"Liberation Sans","fontSize":10,"color":"#666666"},
"encoding":{"x":{"field":"t","type":"quantitative","scale":{"domain":[0,300],"nice":false,"zero":false},"axis":{"orient":"top","title":null,"values":[0,10,20,30,40,50,60,70,80,90,100,110,120,130,140,150,160,170,180,190,200,210,220,230,240,250,260,270,280,290,300],"labels":false,"tickSize":{"condition":{"test":"datum.value % 50 === 0","value":-7},"value":-4}}},
"y":{"datum":-0.27,"type":"quantitative","scale":{"domain":[-0.43,0.57],"nice":false,"zero":false},"axis":{"orient":"right","title":null,"values":[-0.4,-0.3,-0.2,-0.1,0,0.1,0.2,0.3,0.4,0.5],"labels":false,"tickSize":{"condition":{"test":"abs(datum.value*5 - round(datum.value*5)) < 0.001","value":-8},"value":-4}}}}},
{"data":{"name":"picks"},"transform":[{"filter":"datum.s === 'CTCR'"}],"mark":{"type":"text","align":"right","baseline":"middle","font":"Liberation Sans","fontSize":10,"color":"#666666"},
"encoding":{"text":{"field":"s"},"x":{"datum":294,"type":"quantitative","axis":null},"y":{"datum":0.3,"type":"quantitative","axis":null}}}
]}
]
}
